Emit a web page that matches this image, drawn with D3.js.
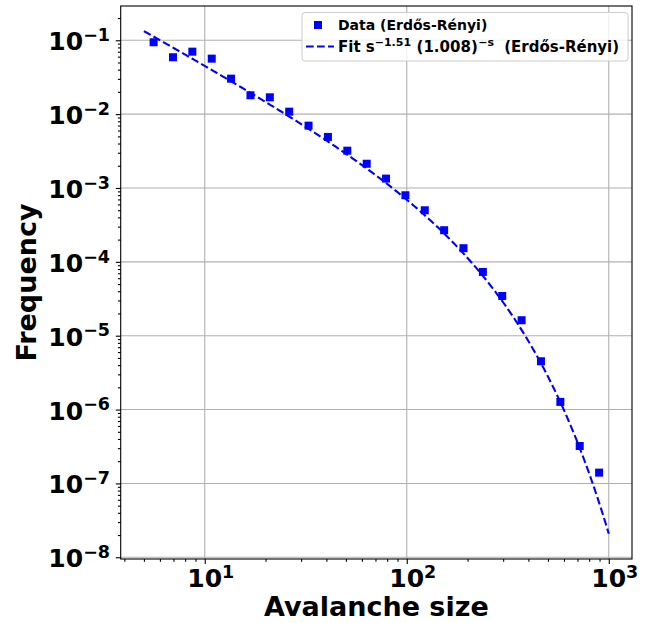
<!DOCTYPE html>
<html><head><meta charset="utf-8">
<script src="https://cdn.jsdelivr.net/npm/d3@7"></script>
<style>
body{margin:0;background:#fff}
text{font-family:"DejaVu Sans",sans-serif;font-weight:bold;fill:#000}
</style>
</head><body>
<svg id="chart" width="651" height="623"></svg>
<script>
// ---- data ----
const sizes = [5.584, 6.965, 8.682, 10.83, 13.50, 16.84, 21.00, 26.18, 32.65, 40.72, 50.78, 63.33,
               78.97, 98.47, 122.8, 153.1, 190.9, 238.1, 296.9, 370.3, 461.7, 575.8, 718.1, 895.5];
const freqs = [0.0940, 0.0589, 0.0701, 0.0564, 0.0302, 0.0180, 0.0169, 0.0108, 0.00698, 0.00491,
               0.00320, 0.00213, 0.00134, 0.000797, 0.000499, 0.000268, 0.000153, 7.30e-5, 3.45e-5,
               1.62e-5, 4.51e-6, 1.27e-6, 3.21e-7, 1.40e-7];
// fit parameters: f(s) = C * s^-a * b^-s
const fitA = 1.51, fitB = 1.00774, fitC = 1.571;
const fitRange = [5, 1000];
const xTickExps = [1, 2, 3];
const yTickExps = [-1, -2, -3, -4, -5, -6, -7, -8];
const xDomain = [3.837, 1303];
const yDomain = [9.48e-9, 0.291];
const legendLabels = ["Data (Erdős-Rényi)", "Fit"];

// ---- layout ----
const L = 120.7, R = 632, T = 6, B = 559;
const svg = d3.select("#chart");
const x = d3.scaleLog().domain(xDomain).range([L, R]);
const y = d3.scaleLog().domain(yDomain).range([B, T]);
const tickFont = 25, supScale = 0.7;

function minorVals(dom) {
  const out = [];
  const lo = Math.floor(Math.log10(dom[0])), hi = Math.ceil(Math.log10(dom[1]));
  for (let d = lo; d <= hi; d++) for (let m = 2; m <= 9; m++) {
    const v = m * Math.pow(10, d);
    if (v >= dom[0] && v <= dom[1]) out.push(v);
  }
  return out;
}

// grid
const grid = svg.append("g");
xTickExps.forEach(e => grid.append("line").attr("x1", x(10 ** e)).attr("x2", x(10 ** e))
  .attr("y1", T).attr("y2", B).attr("stroke", "#b0b0b0").attr("stroke-width", 1.1));
yTickExps.forEach(e => grid.append("line").attr("y1", y(10 ** e)).attr("y2", y(10 ** e))
  .attr("x1", L).attr("x2", R).attr("stroke", "#b0b0b0").attr("stroke-width", 1.1));

// axes via d3 axis generators (ticks only)
const xAxis = d3.axisBottom(x).tickValues(xTickExps.map(e => 10 ** e)).tickSize(4.9).tickFormat("");
const xMinor = d3.axisBottom(x).tickValues(minorVals(xDomain)).tickSize(2.8).tickFormat("");
const yAxis = d3.axisLeft(y).tickValues(yTickExps.map(e => 10 ** e)).tickSize(4.9).tickFormat("");
const yMinor = d3.axisLeft(y).tickValues(minorVals(yDomain)).tickSize(2.8).tickFormat("");
[[xAxis, "b"], [xMinor, "b"], [yAxis, "l"], [yMinor, "l"]].forEach(([ax, side]) => {
  const g = svg.append("g").attr("transform", side === "b" ? `translate(0,${B})` : `translate(${L},0)`).call(ax);
  g.select(".domain").remove();
  g.selectAll("line").attr("stroke", "#000").attr("stroke-width", 1.1);
});

// x tick labels
xTickExps.forEach(e => {
  const t = svg.append("text").attr("x", x(10 ** e) + 6).attr("y", 587)
    .attr("text-anchor", "middle").style("font-size", tickFont + "px");
  t.append("tspan").text("10");
  t.append("tspan").attr("dy", -9.3).style("font-size", tickFont * supScale + "px").text(String(e).replace("-", "−"));
});
// y tick labels
yTickExps.forEach(e => {
  const t = svg.append("text").attr("x", 110).attr("y", y(10 ** e) + 10)
    .attr("text-anchor", "end").style("font-size", tickFont + "px");
  t.append("tspan").text("10");
  t.append("tspan").attr("dy", -9.3).style("font-size", tickFont * supScale + "px").text(String(e).replace("-", "−"));
});

// spines
svg.append("rect").attr("x", L).attr("y", T).attr("width", R - L).attr("height", B - T)
  .attr("fill", "none").attr("stroke", "#000").attr("stroke-width", 1.1);

// data markers
const ms = 8;
svg.append("g").selectAll("rect").data(sizes.map((s, i) => [s, freqs[i]])).join("rect")
  .attr("x", d => x(d[0]) - ms / 2).attr("y", d => y(d[1]) - ms / 2)
  .attr("width", ms).attr("height", ms).attr("fill", "#0000ff");

// fit line
const fitS = d3.range(0, 301).map(i => fitRange[0] * Math.pow(fitRange[1] / fitRange[0], i / 300));
const line = d3.line().x(s => x(s)).y(s => y(fitC * Math.pow(s, -fitA) * Math.pow(fitB, -s)));
svg.append("path").attr("d", line(fitS)).attr("fill", "none").attr("stroke", "#0000ff")
  .attr("stroke-width", 2.1).attr("stroke-dasharray", "7.7,3.3");

// axis labels
svg.append("text").attr("x", (L + R) / 2).attr("y", 616).attr("text-anchor", "middle")
  .style("font-size", "27px").text("Avalanche size");
svg.append("text").attr("transform", `translate(36,${(T + B) / 2}) rotate(-90)`).attr("text-anchor", "middle")
  .style("font-size", "27px").text("Frequency");

// legend
const lg = svg.append("g");
lg.append("rect").attr("x", 302).attr("y", 12.5).attr("width", 326).attr("height", 48.5).attr("rx", 3)
  .attr("fill", "#fff").attr("fill-opacity", 0.8).attr("stroke", "#cccccc").attr("stroke-width", 1);
lg.append("rect").attr("x", 318 - ms / 2).attr("y", 25 - ms / 2).attr("width", ms).attr("height", ms).attr("fill", "#0000ff");
lg.append("line").attr("x1", 306).attr("x2", 334).attr("y1", 46.5).attr("y2", 46.5)
  .attr("stroke", "#0000ff").attr("stroke-width", 2.1).attr("stroke-dasharray", "7.7,3.3");
lg.append("text").attr("x", 338).attr("y", 30).style("font-size", "14px").text(legendLabels[0]);
const ft = lg.append("text").attr("x", 338).attr("y", 51.5).style("font-size", "15px");
ft.append("tspan").text(legendLabels[1] + " s");
const g1 = ft.append("tspan").attr("dy", -6).attr("dx", 0).style("font-size", "11px").text("−" + fitA.toFixed(2));
const g2 = ft.append("tspan").attr("dy", 6).attr("dx", 1.5).text("(1.008)");
const g3 = ft.append("tspan").attr("dy", -6).attr("dx", 0.5).style("font-size", "11px").text("−s");
const g4 = ft.append("tspan").attr("dy", 6).attr("dx", 1).text(" (Erdős-Rényi)");
// spread the small leftover across the gaps after the math parts so the row ends where the reference row ends
const targetW = 282;
const extra = Math.min(8, Math.max(0, targetW - ft.node().getComputedTextLength()));
[g2, g4].forEach(g => g.attr("dx", +g.attr("dx") + extra / 2));
</script>
</body></html>
